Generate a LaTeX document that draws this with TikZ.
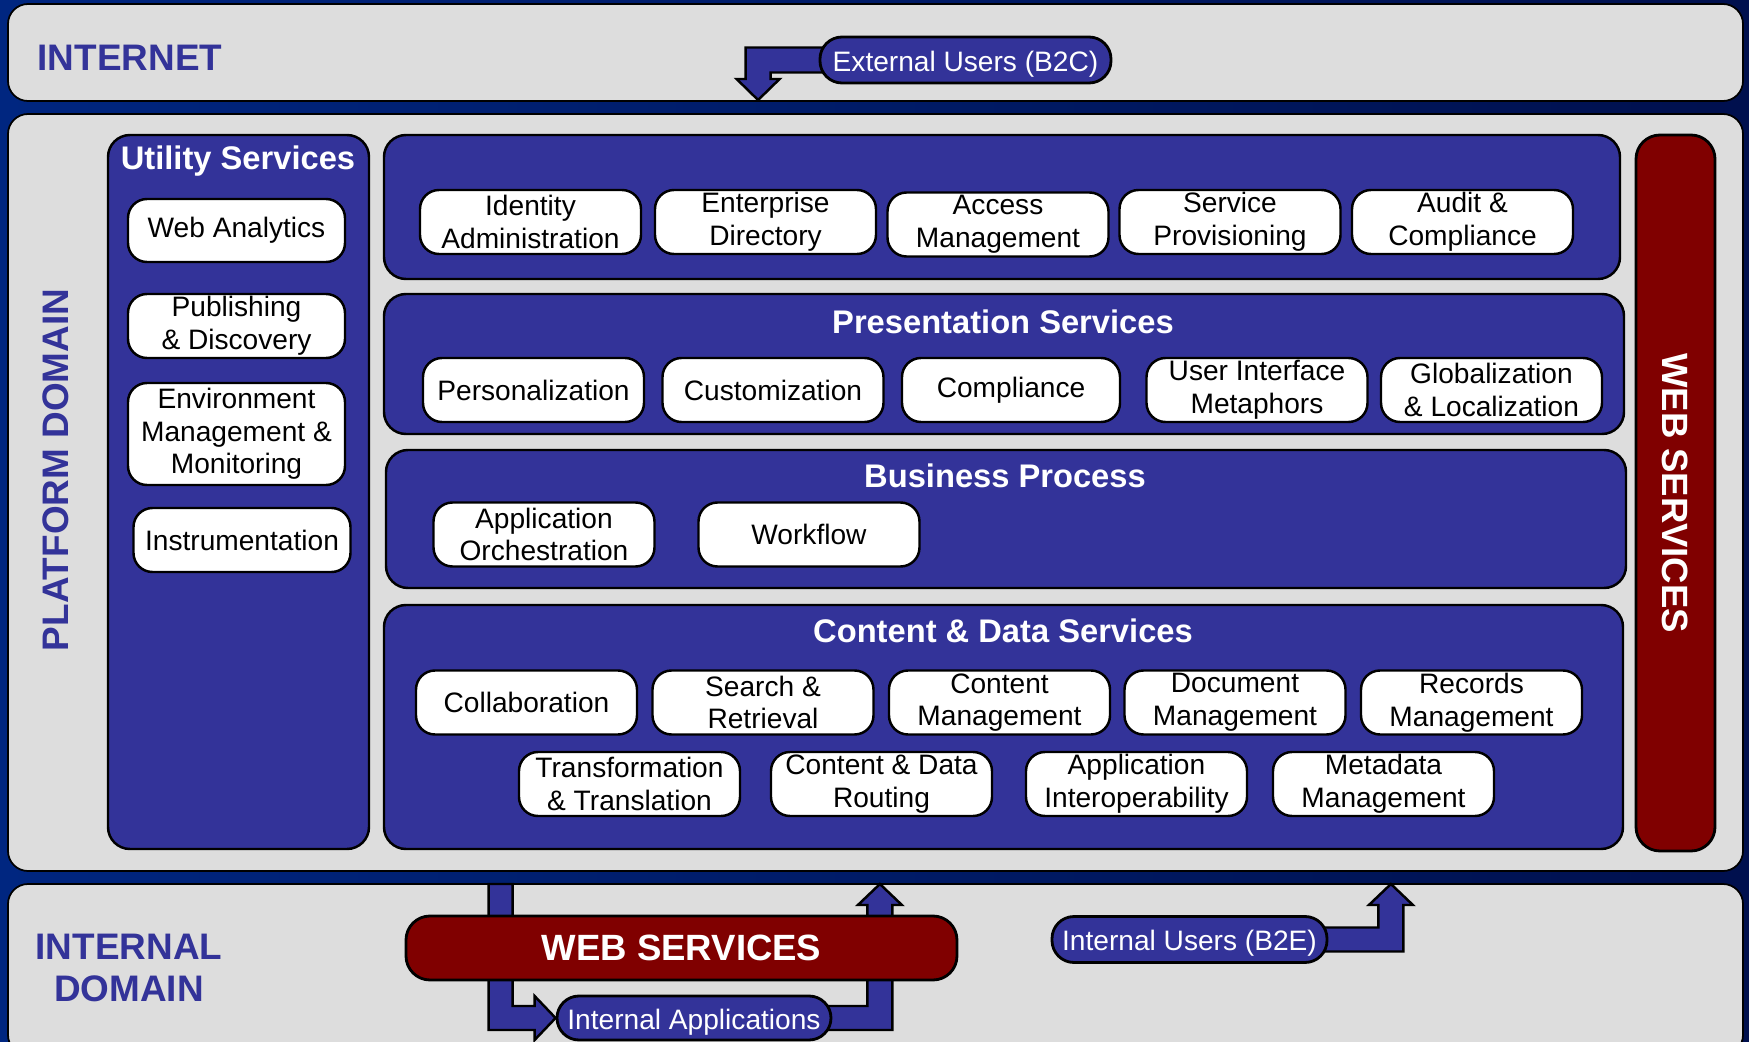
\documentclass[tikz,border=0pt]{standalone}
\usepackage{fontspec}
\setmainfont{Liberation Sans}
\usetikzlibrary{positioning}

\definecolor{svcblue}{RGB}{51,51,153}
\definecolor{svcred}{RGB}{128,0,0}
\definecolor{bandgray}{RGB}{221,221,221}
\definecolor{navyL}{RGB}{0,38,128}
\definecolor{navyM}{RGB}{0,52,145}
\definecolor{navyR}{RGB}{0,16,78}

\pgfdeclarelayer{ground}
\pgfdeclarelayer{flows}
\pgfsetlayers{ground,flows,main}

\begin{document}
\begin{tikzpicture}[
    band/.style={draw=black,line width=0.5pt,fill=bandgray,rounded corners=0.2cm},
    frame/.style={draw=black,line width=0.7pt,fill=svcblue,rounded corners=0.22cm},
    tile/.style={draw=black,line width=0.7pt,fill=white,rounded corners=0.19cm,
        minimum width=2.21cm,minimum height=0.64cm,inner sep=0pt,align=center,
        font=\fontsize{8}{9.3}\selectfont},
    pill/.style={draw=black,line width=0.8pt,fill=svcblue,rounded corners=0.22cm,
        text=white,minimum height=0.46cm,inner sep=0pt,text height=0.64em,text depth=0pt,
        font=\fontsize{8}{9.3}\selectfont},
    redbox/.style={draw=black,line width=0.8pt,fill=svcred,rounded corners=0.24cm,
        text=white,inner sep=0pt,font=\fontsize{10.4}{12}\selectfont\bfseries},
    heading/.style={text=white,inner sep=0pt,font=\fontsize{9.3}{11}\selectfont\bfseries},
    zonelabel/.style={text=svcblue,inner sep=0pt,align=center,
        font=\fontsize{10.5}{11.9}\selectfont\bfseries},
    flow/.style={draw=black,line width=0.7pt,fill=svcblue,line join=miter}
]
\useasboundingbox (0,0) rectangle (17.49,-10.42);

% backdrop and the three domain bands
\begin{pgfonlayer}{ground}
\shade[left color=navyL,middle color=navyM,right color=navyR] (0,0) rectangle (17.49,-10.42);
\draw[band] (0.08,-0.04) rectangle (17.43,-1.01);
\draw[band] (0.08,-1.14) rectangle (17.43,-8.71);
\draw[band] (0.08,-8.84) rectangle (17.43,-10.55);
\end{pgfonlayer}

\node[zonelabel,anchor=west] (inet) at (0.37,-0.58) {INTERNET};
\node[zonelabel,rotate=90] (platform) at (0.56,-4.70) {PLATFORM DOMAIN};
\node[zonelabel] (internal) at (1.29,-9.68) {INTERNAL\\DOMAIN};

% service groups
\draw[frame] (1.08,-1.35) rectangle (3.69,-8.49);
\draw[frame] (3.84,-1.35) rectangle (16.20,-2.79);
\draw[frame] (3.84,-2.94) rectangle (16.24,-4.34);
\draw[frame] (3.86,-4.50) rectangle (16.26,-5.88);
\draw[frame] (3.84,-6.05) rectangle (16.23,-8.49);
\node[heading] (utility) at (2.38,-1.61) {Utility Services};
\node[heading] (presentation) at (10.03,-3.22) {Presentation Services};
\node[heading] (business) at (10.05,-4.76) {Business Process};
\node[heading] (content) at (10.03,-6.31) {Content \& Data Services};

\node[redbox,rotate=-90,minimum width=7.16cm,minimum height=0.79cm] (websvcside) at (16.755,-4.93) {WEB SERVICES};

% utility services
\node[tile,minimum width=2.17cm,minimum height=0.63cm] (analytics) at (2.365,-2.305) {Web Analytics};
\node[tile,minimum width=2.17cm] (publishing) at (2.365,-3.26) {Publishing\\\& Discovery};
\node[tile,minimum width=2.17cm,minimum height=1.02cm] (envmgmt) at (2.365,-4.34) {Environment\\Management \&\\Monitoring};
\node[tile,minimum width=2.17cm] (instrument) at (2.42,-5.40) {Instrumentation};

% identity and access
\node[tile] (identity) at (5.305,-2.22) {Identity\\Administration};
\node[tile] (directory) at (7.655,-2.22) {Enterprise\\Directory};
\node[tile] (access) at (9.98,-2.245) {Access\\Management};
\node[tile] (provision) at (12.30,-2.22) {Service\\Provisioning};
\node[tile] (audit) at (14.625,-2.22) {Audit \&\\Compliance};

% presentation
\node[tile] (personal) at (5.335,-3.90) {Personalization};
\node[tile] (custom) at (7.73,-3.90) {Customization};
\node[tile,minimum width=2.18cm] (compliance) at (10.11,-3.90) {Compliance};
\node[tile] (uimeta) at (12.57,-3.90) {User Interface\\Metaphors};
\node[tile] (globalize) at (14.915,-3.90) {Globalization\\\& Localization};

% business process
\node[tile] (orchestr) at (5.44,-5.345) {Application\\Orchestration};
\node[tile] (workflow) at (8.09,-5.345) {Workflow};

% content and data
\node[tile] (collab) at (5.265,-7.025) {Collaboration};
\node[tile] (search) at (7.63,-7.025) {Search \&\\Retrieval};
\node[tile] (contentmgmt) at (9.995,-7.025) {Content\\Management};
\node[tile] (docmgmt) at (12.35,-7.025) {Document\\Management};
\node[tile] (records) at (14.715,-7.025) {Records\\Management};
\node[tile] (transform) at (6.295,-7.84) {Transformation\\\& Translation};
\node[tile] (routing) at (8.815,-7.84) {Content \& Data\\Routing};
\node[tile] (interop) at (11.365,-7.84) {Application\\Interoperability};
\node[tile] (metadata) at (13.835,-7.84) {Metadata\\Management};

% users and applications
\node[pill,minimum width=2.91cm] (extusers) at (9.655,-0.60) {External Users (B2C)};
\node[redbox,minimum width=5.51cm,minimum height=0.64cm] (websvcbar) at (6.815,-9.48) {WEB SERVICES};
\node[pill,minimum width=2.74cm,minimum height=0.44cm] (intapps) at (6.94,-10.18) {Internal Applications};
\node[pill,minimum width=2.75cm] (intusers) at (11.895,-9.395) {Internal Users (B2E)};

% block arrows, kept under the pills
\begin{pgfonlayer}{flows}
\draw[flow] ([xshift=0.1cm,yshift=0.125cm]extusers.west) -- ++(-0.83,0) -- ++(0,-0.315)
    -- ++(-0.09,0) -- ++(0.215,-0.21) -- ++(0.215,0.21) -- ++(-0.09,0) -- ++(0,0.065)
    -- ++(0.58,0) -- cycle;
\draw[flow] (intapps.west) -- ++(-0.21,0.22) -- ++(0,-0.10) -- ++(-0.22,0) -- ++(0,1.22)
    -- ++(-0.24,0) -- ++(0,-1.46) -- ++(0.46,0) -- ++(0,-0.10) -- cycle;
\draw[flow] ([xshift=-0.1cm,yshift=0.12cm]intapps.east) -- ++(0.45,0) -- ++(0,1.01)
    -- ++(-0.095,0) -- ++(0.22,0.21) -- ++(0.22,-0.21) -- ++(-0.095,0) -- ++(0,-1.25)
    -- ++(-0.70,0) -- cycle;
\draw[flow] ([xshift=-0.1cm,yshift=0.12cm]intusers.east) -- ++(0.60,0) -- ++(0,0.225)
    -- ++(-0.095,0) -- ++(0.22,0.21) -- ++(0.22,-0.21) -- ++(-0.095,0) -- ++(0,-0.465)
    -- ++(-0.85,0) -- cycle;
\end{pgfonlayer}
\end{tikzpicture}
\end{document}
